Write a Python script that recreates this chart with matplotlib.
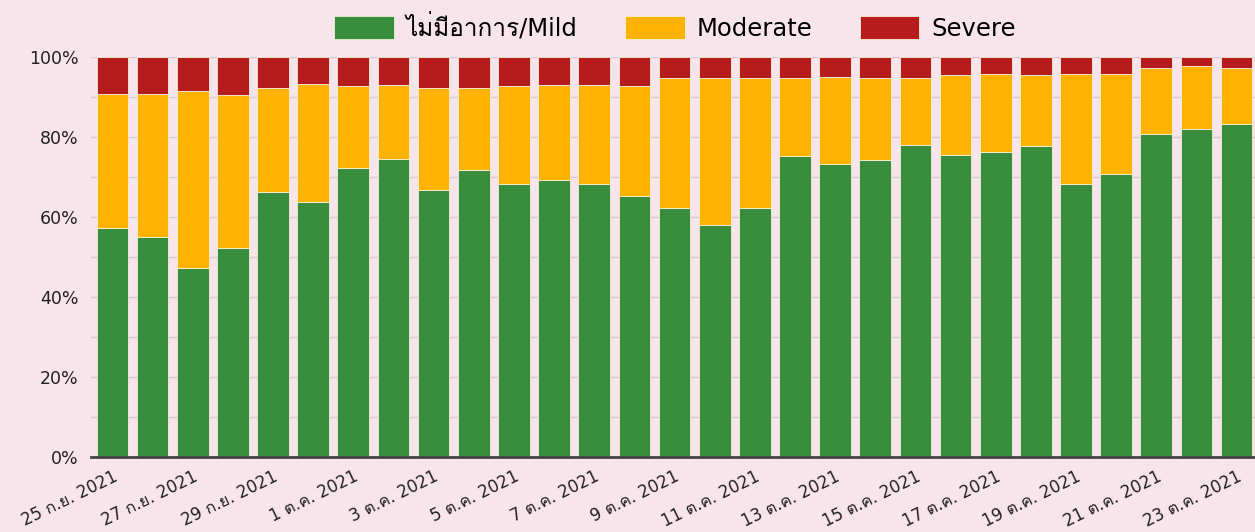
import matplotlib
matplotlib.use('Agg')
import matplotlib.pyplot as plt
import numpy as np

plt.rcParams['font.family'] = ['DejaVu Sans', 'Loma', 'Noto Sans Thai Looped']

# daily share of cases by severity (%), 25 Sep - 23 Oct 2021
dates = ['25 ก.ย. 2021', '26 ก.ย. 2021', '27 ก.ย. 2021', '28 ก.ย. 2021', '29 ก.ย. 2021',
         '30 ก.ย. 2021', '1 ต.ค. 2021', '2 ต.ค. 2021', '3 ต.ค. 2021', '4 ต.ค. 2021',
         '5 ต.ค. 2021', '6 ต.ค. 2021', '7 ต.ค. 2021', '8 ต.ค. 2021', '9 ต.ค. 2021',
         '10 ต.ค. 2021', '11 ต.ค. 2021', '12 ต.ค. 2021', '13 ต.ค. 2021', '14 ต.ค. 2021',
         '15 ต.ค. 2021', '16 ต.ค. 2021', '17 ต.ค. 2021', '18 ต.ค. 2021', '19 ต.ค. 2021',
         '20 ต.ค. 2021', '21 ต.ค. 2021', '22 ต.ค. 2021', '23 ต.ค. 2021']
mild = [57.3, 55.0, 47.1, 52.3, 66.3, 63.7, 72.1, 74.4, 66.7, 71.7,
        68.1, 69.2, 68.1, 65.2, 62.2, 57.9, 62.3, 75.2, 73.1, 74.2,
        77.9, 75.5, 76.3, 77.7, 68.3, 70.8, 80.8, 82.0, 83.2]
moderate = [33.5, 35.8, 44.4, 38.1, 26.0, 29.6, 20.6, 18.6, 25.6, 20.6,
            24.6, 23.7, 24.8, 27.5, 32.4, 36.7, 32.3, 19.4, 21.9, 20.4,
            16.7, 19.9, 19.4, 17.7, 27.5, 25.0, 16.5, 15.7, 13.9]
severe = [9.2, 9.2, 8.5, 9.6, 7.7, 6.7, 7.3, 7.0, 7.7, 7.7,
          7.3, 7.1, 7.1, 7.3, 5.4, 5.4, 5.4, 5.4, 5.0, 5.4,
          5.4, 4.6, 4.3, 4.6, 4.2, 4.2, 2.7, 2.3, 2.9]

bg = '#f7e5eb'
green = '#388e3c'
yellow = '#ffb300'
red = '#b71c1c'

x = np.arange(len(dates))
mild = np.array(mild)
moderate = np.array(moderate)
severe = np.array(severe)

fig = plt.figure(figsize=(12.55, 5.32), dpi=100, facecolor=bg)
ax = fig.add_axes([91 / 1255, 75.3 / 532, 1164 / 1255, 400 / 532], facecolor=bg)

w = 0.79
ax.bar(x, mild, w, color=green, edgecolor='#f3efd9', linewidth=0.6, label='ไม่มีอาการ/Mild', zorder=3)
ax.bar(x, moderate, w, bottom=mild, color=yellow, edgecolor='#f3efd9', linewidth=0.6, label='Moderate', zorder=3)
ax.bar(x, severe, w, bottom=mild + moderate, color=red, edgecolor='#f3efd9', linewidth=0.6, label='Severe', zorder=3)

ax.set_xlim(-0.535, len(dates) - 1 + 0.46)
ax.set_ylim(0, 100)

ax.set_yticks(np.arange(0, 101, 20))
ax.set_yticklabels([f'{v}%' for v in range(0, 101, 20)], fontsize=12.5)
ax.set_yticks(np.arange(0, 101, 10), minor=True)
ax.grid(True, axis='y', which='both', color='#d4cdd0', linewidth=1, zorder=0)
ax.tick_params(axis='y', which='both', length=0, pad=9, labelcolor='#222222')

ax.set_xticks(x[::2])
ax.set_xticklabels(dates[::2], rotation=26, ha='right', va='top', rotation_mode='anchor', fontsize=12)
ax.tick_params(axis='x', length=0, pad=8, labelcolor='#222222')

for s in ['top', 'right', 'left']:
    ax.spines[s].set_visible(False)
ax.spines['bottom'].set_color('#444444')
ax.spines['bottom'].set_linewidth(2)
ax.spines['bottom'].set_zorder(4)

fig.legend(loc='center', bbox_to_anchor=(675 / 1255, 1 - 27 / 532), ncol=3, frameon=False,
           fontsize=17.5, handlelength=2.45, handleheight=1.05, handletextpad=0.5, columnspacing=1.95)

fig.savefig('out.png', facecolor=bg)
